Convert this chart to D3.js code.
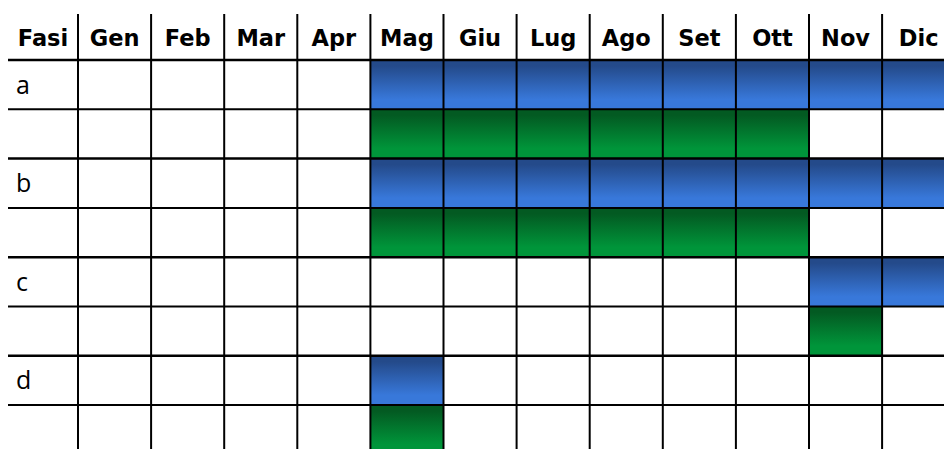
<!DOCTYPE html>
<html lang="it">
<head>
  <meta charset="UTF-8">
  <title>Fasi – cronoprogramma</title>
  <script src="https://cdn.jsdelivr.net/npm/d3@7"></script>
  <style>
    html, body { margin: 0; padding: 0; background: #fff; overflow: hidden; }
    svg { display: block; }
  </style>
</head>
<body>
  <script>
    // ------------- Data -------------
    const months = ["Gen", "Feb", "Mar", "Apr", "Mag", "Giu", "Lug", "Ago", "Set", "Ott", "Nov", "Dic"];
    const phases = ["a", "b", "c", "d"];
    // first / last month (1-based) of each bar, one entry per phase
    const plannedStart = [5, 5, 11, 5];
    const plannedEnd   = [12, 12, 12, 5];
    const actualStart  = [5, 5, 11, 5];
    const actualEnd    = [10, 10, 11, 5];

    // ------------- Layout -------------
    const width = 944, height = 449;
    const left = 8, firstColEnd = 78, colW = 73.1;
    const headTop = 14, headBottom = 60, rowH = 49.3;

    const svg = d3.select("body").append("svg")
      .attr("width", width)
      .attr("height", height);

    const defs = svg.append("defs");
    function gradient(id, dark, light) {
      const g = defs.append("linearGradient")
        .attr("id", id).attr("x1", 0).attr("y1", 0).attr("x2", 0).attr("y2", 1);
      g.append("stop").attr("offset", "0%").attr("stop-color", dark);
      g.append("stop").attr("offset", "12%").attr("stop-color", dark);
      g.append("stop").attr("offset", "80%").attr("stop-color", light);
      g.append("stop").attr("offset", "100%").attr("stop-color", light);
    }
    gradient("blue", "#244a8a", "#3878da");
    gradient("green", "#035a22", "#00953a");

    // month index 0..12 -> x
    const x = d3.scaleLinear().domain([0, 12]).range([firstColEnd, firstColEnd + 12 * colW]);
    // two rows per phase
    const rowKeys = phases.flatMap(p => [p + "-p", p + "-a"]);
    const y = d3.scaleBand().domain(rowKeys).range([headBottom, headBottom + rowKeys.length * rowH]);

    // ------------- Bars -------------
    const bars = [];
    phases.forEach((p, i) => {
      bars.push({ row: p + "-p", s: plannedStart[i], e: plannedEnd[i], fill: "url(#blue)" });
      bars.push({ row: p + "-a", s: actualStart[i], e: actualEnd[i], fill: "url(#green)" });
    });
    svg.append("g").selectAll("rect").data(bars).join("rect")
      .attr("x", d => x(d.s - 1))
      .attr("y", d => y(d.row))
      .attr("width", d => x(d.e) - x(d.s - 1))
      .attr("height", y.bandwidth())
      .attr("fill", d => d.fill);

    // ------------- Grid -------------
    const grid = svg.append("g").attr("stroke", "#000").attr("fill", "none");
    // vertical lines
    grid.selectAll("line.v").data(d3.range(0, 12)).join("line")
      .attr("class", "v")
      .attr("x1", d => x(d)).attr("x2", d => x(d))
      .attr("y1", headTop).attr("y2", height)
      .attr("stroke-width", 2);
    // horizontal lines (thicker between phases)
    grid.selectAll("line.h").data(rowKeys).join("line")
      .attr("class", "h")
      .attr("x1", left)
      .attr("x2", width)
      .attr("y1", d => y(d)).attr("y2", d => y(d))
      .attr("stroke-width", (d, i) => i % 2 === 0 ? 2.5 : 2);

    // ------------- Header -------------
    const head = svg.append("g")
      .attr("font-family", "DejaVu Sans, Verdana, sans-serif")
      .attr("font-weight", "bold")
      .attr("font-size", 22.5)
      .attr("text-anchor", "middle")
      .attr("fill", "#000");
    head.append("text")
      .attr("x", (left + firstColEnd) / 2)
      .attr("y", 46)
      .text("Fasi");
    head.selectAll("text.m").data(months).join("text")
      .attr("class", "m")
      .attr("x", (d, i) => (x(i) + x(i + 1)) / 2)
      .attr("y", 46)
      .text(d => d);

    // ------------- Phase labels -------------
    svg.append("g")
      .attr("font-family", "Open Sans, sans-serif")
      .attr("font-size", 25)
      .attr("fill", "#000")
      .selectAll("text").data(phases).join("text")
      .attr("x", 16)
      .attr("y", d => y(d + "-p") + y.bandwidth() / 2 + 9)
      .text(d => d);
  </script>
</body>
</html>
